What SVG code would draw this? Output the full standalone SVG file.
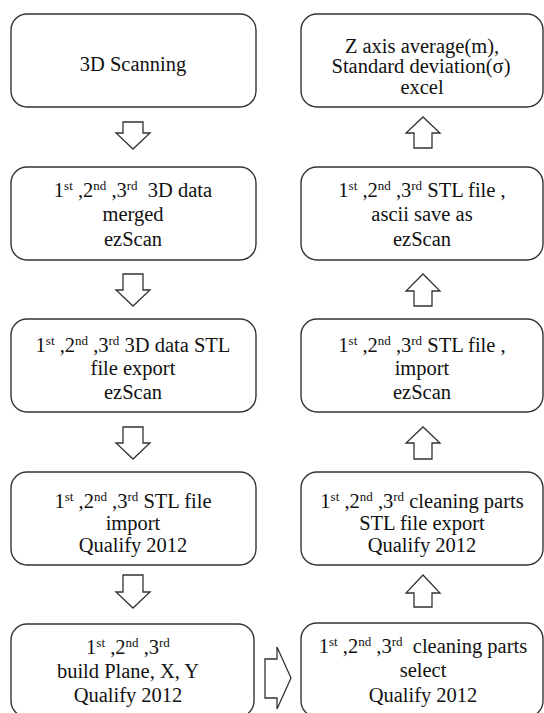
<svg xmlns="http://www.w3.org/2000/svg" width="544" height="713" viewBox="0 0 544 713">
<style>
.box{fill:#ffffff;stroke:#333333;stroke-width:1.4}
.arr{fill:#ffffff;stroke:#333333;stroke-width:1.3;stroke-linejoin:miter}
</style>
<rect width="544" height="713" fill="#ffffff"/>
<g id="connectors">
<polygon class="arr" points="123,122 143,122 143,133 150,133 133,149 116,133 123,133"/>
<polygon class="arr" points="123,274 143,274 143,290 150,290 133,306 116,290 123,290"/>
<polygon class="arr" points="123,427 143,427 143,443 150,443 133,459 116,443 123,443"/>
<polygon class="arr" points="123,575 143,575 143,592 150,592 133,608 116,592 123,592"/>
<polygon class="arr" points="414,148 432,148 432,133 440,133 423,117 406,133 414,133"/>
<polygon class="arr" points="414,306 432,306 432,291 440,291 423,274 406,291 414,291"/>
<polygon class="arr" points="414,459 432,459 432,443 440,443 423,427 406,443 414,443"/>
<polygon class="arr" points="414,607 432,607 432,593 440,593 423,575 406,593 414,593"/>
<polygon class="arr" points="265,659 277,659 277,647 291,678 277,709 277,698 265,698"/>
</g>
<g id="nodes" font-family="Liberation Serif" font-size="20.5" fill="#111111" text-anchor="middle">
<g id="n1">
<rect class="box" x="11" y="14" width="245" height="93" rx="16"/>
<text x="133" y="71">3D Scanning</text>
</g>
<g id="n2">
<rect class="box" x="11" y="167" width="245" height="93" rx="16"/>
<text x="133" y="197" xml:space="preserve">1<tspan font-size="13" dy="-7">st</tspan><tspan dy="7"> ,2</tspan><tspan font-size="13" dy="-7">nd</tspan><tspan dy="7"> ,3</tspan><tspan font-size="13" dy="-7">rd</tspan><tspan dy="7">  3D data</tspan></text>
<text x="133" y="221">merged</text>
<text x="133" y="246">ezScan</text>
</g>
<g id="n3">
<rect class="box" x="11" y="319" width="245" height="93" rx="16"/>
<text x="133" y="352" xml:space="preserve">1<tspan font-size="13" dy="-7">st</tspan><tspan dy="7"> ,2</tspan><tspan font-size="13" dy="-7">nd</tspan><tspan dy="7"> ,3</tspan><tspan font-size="13" dy="-7">rd</tspan><tspan dy="7"> 3D data STL</tspan></text>
<text x="133" y="375">file export</text>
<text x="133" y="399">ezScan</text>
</g>
<g id="n4">
<rect class="box" x="11" y="472" width="245" height="93" rx="16"/>
<text x="133" y="508" xml:space="preserve">1<tspan font-size="13" dy="-7">st</tspan><tspan dy="7"> ,2</tspan><tspan font-size="13" dy="-7">nd</tspan><tspan dy="7"> ,3</tspan><tspan font-size="13" dy="-7">rd</tspan><tspan dy="7"> STL file</tspan></text>
<text x="133" y="530">import</text>
<text x="133" y="552">Qualify 2012</text>
</g>
<g id="n5">
<rect class="box" x="11" y="624" width="243" height="93" rx="16"/>
<text x="128" y="654" xml:space="preserve">1<tspan font-size="13" dy="-7">st</tspan><tspan dy="7"> ,2</tspan><tspan font-size="13" dy="-7">nd</tspan><tspan dy="7"> ,3</tspan><tspan font-size="13" dy="-7">rd</tspan></text>
<text x="128" y="678">build Plane, X, Y</text>
<text x="128" y="702">Qualify 2012</text>
</g>
<g id="n6">
<rect class="box" x="301" y="623" width="242" height="94" rx="16"/>
<text x="423" y="653" xml:space="preserve">1<tspan font-size="13" dy="-7">st</tspan><tspan dy="7"> ,2</tspan><tspan font-size="13" dy="-7">nd</tspan><tspan dy="7"> ,3</tspan><tspan font-size="13" dy="-7">rd</tspan><tspan dy="7">  cleaning parts</tspan></text>
<text x="423" y="677">select</text>
<text x="423" y="702">Qualify 2012</text>
</g>
<g id="n7">
<rect class="box" x="301" y="472" width="242" height="93" rx="16"/>
<text x="422" y="508" xml:space="preserve">1<tspan font-size="13" dy="-7">st</tspan><tspan dy="7"> ,2</tspan><tspan font-size="13" dy="-7">nd</tspan><tspan dy="7"> ,3</tspan><tspan font-size="13" dy="-7">rd</tspan><tspan dy="7"> cleaning parts</tspan></text>
<text x="422" y="530">STL file export</text>
<text x="422" y="552">Qualify 2012</text>
</g>
<g id="n8">
<rect class="box" x="301" y="319" width="242" height="93" rx="16"/>
<text x="422" y="352" xml:space="preserve">1<tspan font-size="13" dy="-7">st</tspan><tspan dy="7"> ,2</tspan><tspan font-size="13" dy="-7">nd</tspan><tspan dy="7"> ,3</tspan><tspan font-size="13" dy="-7">rd</tspan><tspan dy="7"> STL file ,</tspan></text>
<text x="422" y="375">import</text>
<text x="422" y="399">ezScan</text>
</g>
<g id="n9">
<rect class="box" x="301" y="167" width="242" height="93" rx="16"/>
<text x="422" y="197" xml:space="preserve">1<tspan font-size="13" dy="-7">st</tspan><tspan dy="7"> ,2</tspan><tspan font-size="13" dy="-7">nd</tspan><tspan dy="7"> ,3</tspan><tspan font-size="13" dy="-7">rd</tspan><tspan dy="7"> STL file ,</tspan></text>
<text x="422" y="221">ascii save as</text>
<text x="422" y="246">ezScan</text>
</g>
<g id="n10">
<rect class="box" x="301" y="14" width="242" height="93" rx="16"/>
<text x="422" y="53">Z axis average(m),</text>
<text x="421" y="73">Standard deviation(σ)</text>
<text x="422" y="94">excel</text>
</g>
</g>
</svg>
